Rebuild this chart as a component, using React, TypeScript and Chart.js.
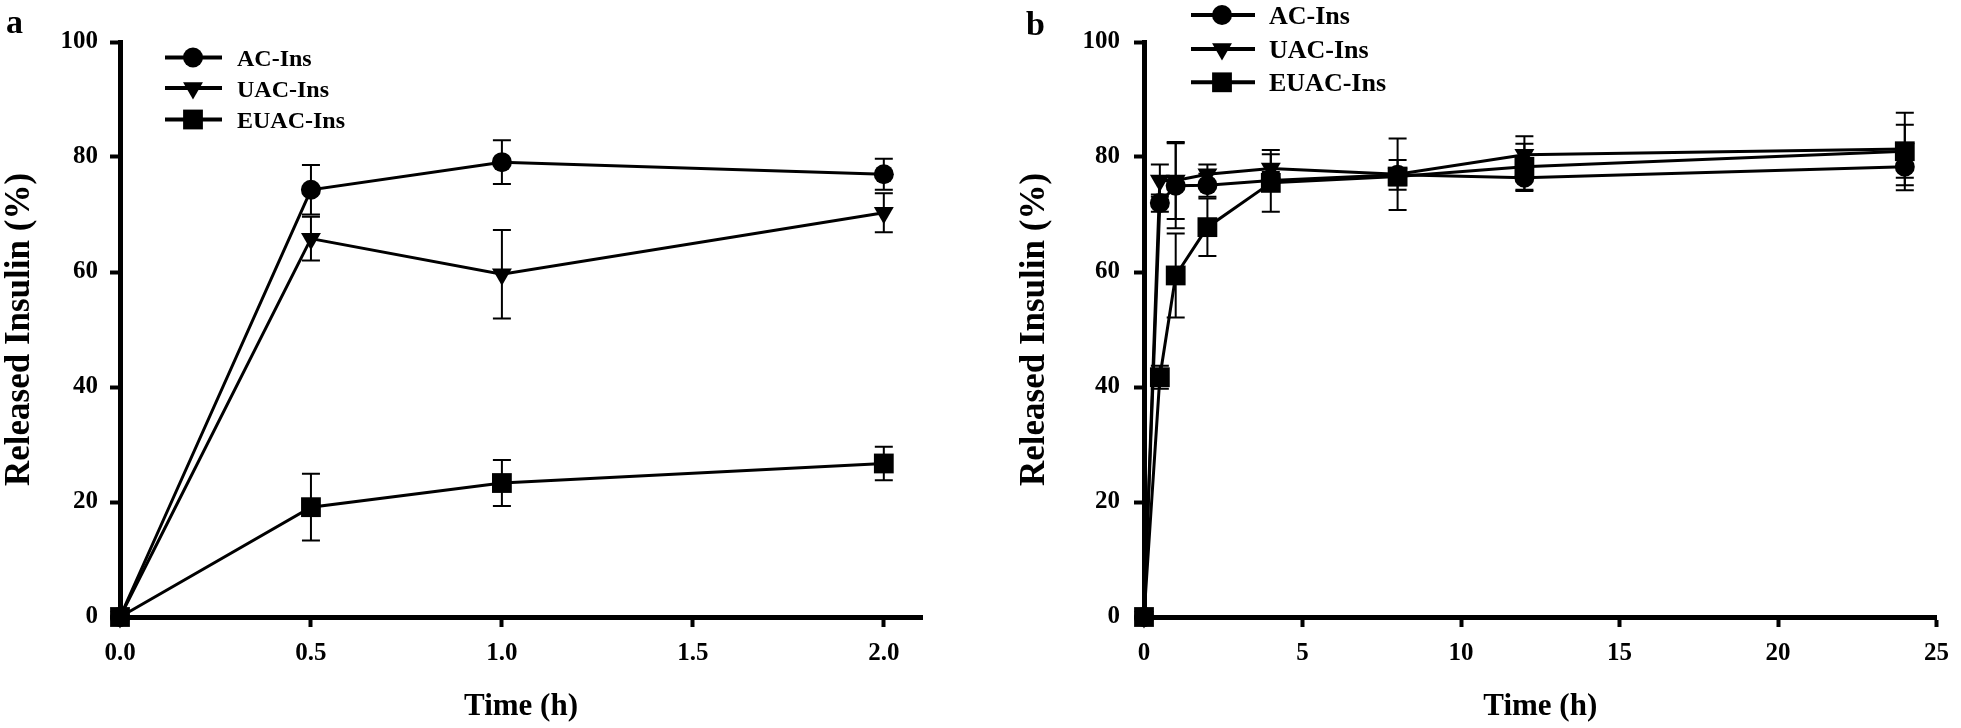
import React, { useEffect, useRef } from "react";
import { Chart, registerables } from "chart.js";

Chart.register(...registerables);

const FONT = "'Liberation Serif', 'Times New Roman', serif";

// ---------- Data ----------
const seriesNames = ["AC-Ins", "UAC-Ins", "EUAC-Ins"];

// Panel a (0–2 h)
const timeA = [0, 0.5, 1, 2];
const acA = [0, 74.3, 79.1, 77.0];
const acAErr = [0, 4.3, 3.8, 2.7];
const uacA = [0, 65.8, 59.6, 70.3];
const uacAErr = [0, 3.8, 7.7, 3.4];
const euacA = [0, 19.1, 23.3, 26.7];
const euacAErr = [0, 5.8, 4.0, 2.9];

// Panel b (0–24 h)
const timeB = [0, 0.5, 1, 2, 4, 8, 12, 24];
const acB = [0, 72.0, 75.0, 75.1, 75.9, 76.9, 76.4, 78.3];
const acBErr = [0, 1.5, 7.4, 2.0, 1.5, 2.6, 2.3, 4.1];
const uacB = [0, 75.9, 75.9, 77.0, 78.0, 77.0, 80.4, 81.4];
const uacBErr = [0, 2.8, 6.7, 1.7, 3.2, 6.2, 3.2, 6.3];
const euacB = [0, 41.7, 59.4, 67.8, 75.5, 76.6, 78.3, 81.0];
const euacBErr = [0, 2.0, 7.3, 5.0, 5.0, 1.5, 4.0, 4.6];

const yMin = 0;
const yMax = 100;
const yStep = 20;
const xMaxA = 2.1;
const xStepA = 0.5;
const xMaxB = 25;
const xStepB = 5;

// ---------- Marker styles ----------
const markers = [
  { pointStyle: "circle", radius: 10, rotation: 0 },
  { pointStyle: "triangle", radius: 11.5, rotation: 180 },
  { pointStyle: "rect", radius: 14, rotation: 0 },
];

function drawMarker(ctx: CanvasRenderingContext2D, kind: number, x: number, y: number) {
  const m = markers[kind];
  ctx.save();
  ctx.fillStyle = "#000";
  ctx.beginPath();
  if (m.pointStyle === "circle") {
    ctx.arc(x, y, m.radius, 0, Math.PI * 2);
  } else if (m.pointStyle === "triangle") {
    const r = m.radius;
    let a = Math.PI; // pointing down
    ctx.moveTo(x + Math.sin(a) * r, y - Math.cos(a) * r);
    a += (2 * Math.PI) / 3;
    ctx.lineTo(x + Math.sin(a) * r, y - Math.cos(a) * r);
    a += (2 * Math.PI) / 3;
    ctx.lineTo(x + Math.sin(a) * r, y - Math.cos(a) * r);
    ctx.closePath();
  } else {
    const s = Math.SQRT1_2 * m.radius;
    ctx.rect(x - s, y - s, 2 * s, 2 * s);
  }
  ctx.fill();
  ctx.restore();
}

// ---------- Plugins ----------
const errorBarPlugin = {
  id: "errorBars",
  afterDatasetsDraw(chart: any) {
    const ctx = chart.ctx;
    const ys = chart.scales.y;
    ctx.save();
    ctx.strokeStyle = "#000";
    ctx.lineWidth = 2;
    chart.data.datasets.forEach((ds: any, i: number) => {
      const meta = chart.getDatasetMeta(i);
      meta.data.forEach((pt: any, j: number) => {
        const e = ds.errors[j];
        if (!e) return;
        const v = ds.data[j].y;
        const top = ys.getPixelForValue(v + e);
        const bot = ys.getPixelForValue(v - e);
        const cw = 9;
        ctx.beginPath();
        ctx.moveTo(pt.x, top);
        ctx.lineTo(pt.x, bot);
        ctx.moveTo(pt.x - cw, top);
        ctx.lineTo(pt.x + cw, top);
        ctx.moveTo(pt.x - cw, bot);
        ctx.lineTo(pt.x + cw, bot);
        ctx.stroke();
      });
    });
    ctx.restore();
  },
};

const legendPlugin = {
  id: "customLegend",
  afterDraw(chart: any, _args: any, opts: any) {
    const ctx = chart.ctx;
    ctx.save();
    seriesNames.forEach((name, i) => {
      const y = opts.rows[i];
      ctx.strokeStyle = "#000";
      ctx.lineWidth = 4;
      ctx.beginPath();
      ctx.moveTo(opts.lineX1, y);
      ctx.lineTo(opts.lineX2, y);
      ctx.stroke();
      drawMarker(ctx, i, opts.markerX, y);
      ctx.fillStyle = "#000";
      ctx.font = `bold ${opts.fontSize}px ${FONT}`;
      ctx.textAlign = "left";
      ctx.textBaseline = "alphabetic";
      ctx.fillText(name, opts.textX, y + 8.5);
    });
    ctx.font = `bold ${opts.panelSize}px ${FONT}`;
    ctx.fillText(opts.panel, opts.panelX, opts.panelY);
    ctx.restore();
  },
};

// ---------- Config builder ----------
function buildConfig(p: {
  times: number[];
  series: number[][];
  errors: number[][];
  xMax: number;
  xStep: number;
  decimals: number;
  padding: any;
  yWidth: number;
  yTickPad: number;
  legend: any;
}) {
  const datasets = p.series.map((vals, i) => ({
    label: seriesNames[i],
    data: p.times.map((t, j) => ({ x: t, y: vals[j] })),
    errors: p.errors[i],
    borderColor: "#000",
    backgroundColor: "#000",
    borderWidth: 3,
    tension: 0,
    pointStyle: markers[i].pointStyle,
    pointRadius: markers[i].radius,
    pointRotation: markers[i].rotation,
    pointBackgroundColor: "#000",
    pointBorderColor: "#000",
    pointBorderWidth: 0,
    clip: false,
  }));
  const tickFont = { family: FONT, size: 25, weight: "bold" as const };
  return {
    type: "line" as const,
    data: { datasets },
    plugins: [errorBarPlugin, legendPlugin],
    options: {
      responsive: false,
      animation: false as const,
      devicePixelRatio: 1,
      events: [],
      layout: { padding: p.padding },
      plugins: {
        legend: { display: false },
        tooltip: { enabled: false },
        customLegend: p.legend,
      },
      scales: {
        x: {
          type: "linear" as const,
          min: 0,
          max: p.xMax,
          afterFit: (s: any) => {
            s.height = 111;
          },
          ticks: {
            stepSize: p.xStep,
            includeBounds: false,
            autoSkip: false,
            maxRotation: 0,
            color: "#000",
            font: tickFont,
            padding: 12,
            callback: (v: any) => Number(v).toFixed(p.decimals),
          },
          grid: {
            drawOnChartArea: false,
            drawTicks: true,
            tickLength: 10,
            tickWidth: 4,
            tickColor: "#000",
          },
          border: { display: true, color: "#000", width: 5 },
          title: {
            display: true,
            text: "Time (h)",
            color: "#000",
            font: { family: FONT, size: 31, weight: "bold" as const, lineHeight: 1.2 },
            padding: { top: 0, bottom: 2 },
          },
        },
        y: {
          type: "linear" as const,
          min: yMin,
          max: yMax,
          afterFit: (s: any) => {
            s.width = p.yWidth;
          },
          ticks: {
            stepSize: yStep,
            color: "#000",
            font: tickFont,
            padding: p.yTickPad,
          },
          grid: {
            drawOnChartArea: false,
            drawTicks: true,
            tickLength: 10,
            tickWidth: 4,
            tickColor: "#000",
          },
          border: { display: true, color: "#000", width: 5 },
          title: {
            display: true,
            text: "Released Insulin (%)",
            color: "#000",
            font: { family: FONT, size: 35, weight: "bold" as const, lineHeight: 1.15 },
            padding: { top: 0, bottom: 0 },
          },
        },
      },
    },
  };
}

function ChartCanvas({ config, left, width, height }: any) {
  const ref = useRef<HTMLCanvasElement | null>(null);
  useEffect(() => {
    if (!ref.current) return;
    const chart = new Chart(ref.current, config as any);
    return () => chart.destroy();
  }, []);
  return (
    <canvas
      ref={ref}
      width={width}
      height={height}
      style={{ position: "absolute", left, top: 0, width, height }}
    />
  );
}

export default function App() {
  const configA = buildConfig({
    times: timeA,
    series: [acA, uacA, euacA],
    errors: [acAErr, uacAErr, euacAErr],
    xMax: xMaxA,
    xStep: xStepA,
    decimals: 1,
    padding: { left: 0, right: 58, top: 42, bottom: 0 },
    yWidth: 120,
    yTickPad: 12,
    legend: {
      lineX1: 165,
      lineX2: 222,
      markerX: 193,
      textX: 237,
      rows: [57.5, 88, 119.5],
      fontSize: 24,
      panel: "a",
      panelX: 6,
      panelY: 33,
      panelSize: 34,
    },
  });
  const configB = buildConfig({
    times: timeB,
    series: [acB, uacB, euacB],
    errors: [acBErr, uacBErr, euacBErr],
    xMax: xMaxB,
    xStep: xStepB,
    decimals: 0,
    padding: { left: 35, right: 14, top: 42, bottom: 0 },
    yWidth: 129,
    yTickPad: 14,
    legend: {
      lineX1: 211,
      lineX2: 275,
      markerX: 242,
      textX: 289,
      rows: [15, 49, 82.3],
      fontSize: 26,
      panel: "b",
      panelX: 46,
      panelY: 35,
      panelSize: 34,
    },
  });
  return (
    <div
      style={{
        position: "absolute",
        left: 0,
        top: 0,
        width: 1961,
        height: 728,
        background: "#fff",
        overflow: "hidden",
      }}
    >
      <ChartCanvas config={configA} left={0} width={980} height={728} />
      <ChartCanvas config={configB} left={980} width={981} height={728} />
    </div>
  );
}
